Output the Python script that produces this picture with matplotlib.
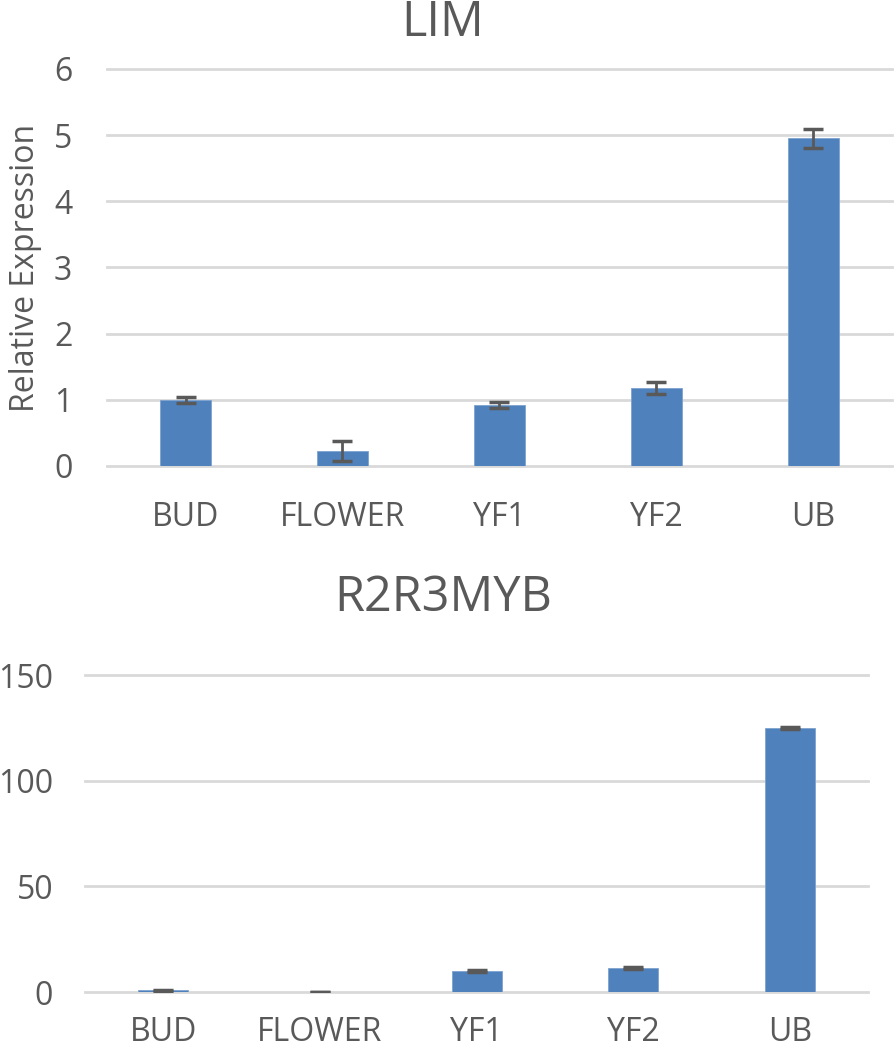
import numpy as np
import matplotlib
matplotlib.use("Agg")
import matplotlib.pyplot as plt

plt.rcParams['font.family'] = ['Open Sans', 'DejaVu Sans']

categories = ['BUD', 'FLOWER', 'YF1', 'YF2', 'UB']

lim_values = [1.0, 0.23, 0.92, 1.18, 4.95]
lim_err = [0.05, 0.15, 0.04, 0.09, 0.14]
lim_ticks = [0, 1, 2, 3, 4, 5, 6]

myb_values = [0.8, 0.1, 9.9, 11.3, 125.0]
myb_err = [0.3, 0.05, 0.5, 0.6, 0.5]
myb_ticks = [0, 50, 100, 150]

BAR = '#4f81bd'
TXT = '#595959'
GRID = '#d9d9d9'

fig = plt.figure(figsize=(8.94, 10.5), dpi=100)


def draw(ax, vals, errs, ticks, xpad, ypad):
    x = np.arange(len(categories))
    ax.bar(x, vals, width=0.32, color=BAR, edgecolor='#7ea3d1', linewidth=0.6, zorder=3)
    ax.errorbar(x, vals, yerr=errs, fmt='none', ecolor=TXT, elinewidth=2,
                capsize=7, capthick=2.5, zorder=4)
    ax.set_xlim(-0.5, len(categories) - 0.5)
    ax.set_ylim(ticks[0], ticks[-1])
    ax.set_yticks(ticks)
    ax.set_xticks(x)
    ax.set_xticklabels(categories)
    for t in ticks:
        ax.axhline(t, color=GRID, lw=2, zorder=1, clip_on=False)
    for s in ax.spines.values():
        s.set_visible(False)
    ax.tick_params(length=0, labelsize=23, colors=TXT)
    ax.tick_params(axis='x', pad=xpad)
    ax.tick_params(axis='y', pad=ypad)


ax1 = fig.add_axes([0.1197, 0.5562, 0.878, 0.3781])
draw(ax1, lim_values, lim_err, lim_ticks, 25, 25)

ax2 = fig.add_axes([0.0951, 0.0552, 0.876, 0.3019])
draw(ax2, myb_values, myb_err, myb_ticks, 17, 23)

# titles and y label sit relative to the whole figure, like the source chart
fig.text(0.4955, 0.9657, 'LIM', fontsize=35, color=TXT, ha='center', va='baseline')
fig.text(0.4955, 0.418, 'R2R3MYB', fontsize=35, color=TXT, ha='center', va='baseline')
fig.text(0.029, 0.745, 'Relative Expression', fontsize=23, color=TXT,
         rotation=90, ha='center', va='center')

fig.savefig('out.png', dpi=100)
